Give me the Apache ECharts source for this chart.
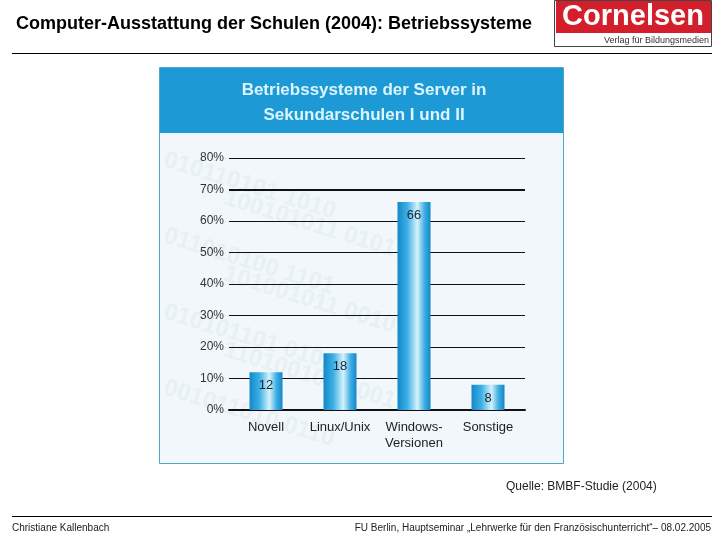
<!DOCTYPE html>
<html><head><meta charset="utf-8">
<script src="https://cdn.jsdelivr.net/npm/echarts@6/dist/echarts.min.js"></script>
<style>html,body{margin:0;padding:0;background:#fff}#c{width:720px;height:540px}</style>
</head><body><div id="c"></div>
<script>
const categories = ['Novell', 'Linux/Unix', 'Windows-\nVersionen', 'Sonstige'];
const values = [12, 18, 66, 8];
const yTicks = [0, 10, 20, 30, 40, 50, 60, 70, 80];
const pageTitle = 'Computer-Ausstattung der Schulen (2004): Betriebssysteme';
const chartTitle = ['Betriebssysteme der Server in', 'Sekundarschulen I und II'];
const source = 'Quelle: BMBF-Studie (2004)';
const footerLeft = 'Christiane Kallenbach';
const footerRight = 'FU Berlin, Hauptseminar \u201ELehrwerke f\u00fcr den Franz\u00f6sischunterricht\u201C\u2013 08.02.2005';

const narrow = '"Liberation Sans Narrow", "Arial Narrow", "Liberation Sans", Arial, sans-serif';
const arial = '"Liberation Sans", Arial, sans-serif';

const wm = [];
const wmStrings = ['010110101', '100101011', '011010100', '101001011', '010101101', '110100101', '001011010'];
wmStrings.forEach((s, i) => {
  wm.push({type: 'text', z: -5, x: 168 + (i % 2) * 60, y: 148 + i * 38, rotation: -0.3,
    style: {text: s + ' ' + wmStrings[(i + 3) % wmStrings.length].slice(0, 4), fill: 'rgba(170,200,218,0.15)', font: 'bold 24px ' + arial}});
});

const chart = echarts.init(document.getElementById('c'));
chart.setOption({
  animation: false,
  grid: {left: 229, right: 195, top: 158, bottom: 130},
  xAxis: {
    type: 'category', data: categories,
    axisLine: {show: true, lineStyle: {color: '#111', width: 2}},
    axisTick: {show: false},
    axisLabel: {interval: 0, margin: 9, color: '#222', fontFamily: narrow, fontSize: 13, lineHeight: 16}
  },
  yAxis: {
    type: 'value', min: 0, max: 80, interval: 10,
    axisLine: {show: false}, axisTick: {show: false},
    axisLabel: {margin: 5, color: '#333', fontFamily: narrow, fontSize: 12, formatter: '{value}%'},
    splitLine: {lineStyle: {color: '#111', width: 1}}
  },
  series: [{
    type: 'bar', data: values, barWidth: 33,
    itemStyle: {
      color: new echarts.graphic.LinearGradient(0, 0, 1, 0, [
        {offset: 0, color: '#1488c8'},
        {offset: 0.3, color: '#3cb0e4'},
        {offset: 0.6, color: '#d6f2fc'},
        {offset: 0.82, color: '#3eaee2'},
        {offset: 1, color: '#1386c6'}
      ])
    },
    label: {show: true, position: 'insideTop', distance: 7, color: '#1a2633', fontFamily: narrow, fontSize: 13},
    markLine: {symbol: 'none', silent: true, label: {show: false},
      lineStyle: {color: '#111', width: 2, type: 'solid'}, data: [{yAxis: 70}]}
  }],
  graphic: [
    {type: 'text', left: 16, top: 15, style: {text: pageTitle, font: 'bold 18px ' + arial, fill: '#000'}},
    {type: 'rect', shape: {x: 554.5, y: 0.5, width: 157, height: 46}, style: {fill: '#fff', stroke: '#444', lineWidth: 1}},
    {type: 'rect', shape: {x: 556, y: 1, width: 155, height: 32}, style: {fill: '#d21f2b'}},
    {type: 'text', x: 633, y: 17, style: {text: 'Cornelsen', font: 'bold 29px ' + narrow, fill: '#fff', align: 'center', verticalAlign: 'middle'}},
    {type: 'text', x: 709, y: 41, style: {text: 'Verlag f\u00fcr Bildungsmedien', font: '9px ' + narrow, fill: '#333', align: 'right', verticalAlign: 'middle'}},
    {type: 'line', shape: {x1: 12, y1: 53.5, x2: 712, y2: 53.5}, style: {stroke: '#000', lineWidth: 1}},
    {type: 'rect', z: -10, shape: {x: 159.5, y: 67.5, width: 404, height: 396}, style: {fill: '#f1f7fb', stroke: '#4fa9c4', lineWidth: 1}},
    ...wm,
    {type: 'rect', z: -4, shape: {x: 160, y: 68, width: 403, height: 65}, style: {fill: '#1d9ad6'}},
    {type: 'text', x: 364, y: 90, style: {text: chartTitle[0], font: 'bold 17px ' + narrow, fill: '#dcf4ff', align: 'center', verticalAlign: 'middle'}},
    {type: 'text', x: 364, y: 115, style: {text: chartTitle[1], font: 'bold 17px ' + narrow, fill: '#dcf4ff', align: 'center', verticalAlign: 'middle'}},
    {type: 'text', x: 506, y: 487, style: {text: source, font: '12px ' + arial, fill: '#222', verticalAlign: 'middle'}},
    {type: 'line', shape: {x1: 12, y1: 516.5, x2: 712, y2: 516.5}, style: {stroke: '#000', lineWidth: 1}},
    {type: 'text', x: 12, y: 528, style: {text: footerLeft, font: '10px ' + arial, fill: '#222', verticalAlign: 'middle'}},
    {type: 'text', x: 711, y: 528, style: {text: footerRight, font: '10px ' + arial, fill: '#222', align: 'right', verticalAlign: 'middle'}}
  ]
});
</script></body></html>
